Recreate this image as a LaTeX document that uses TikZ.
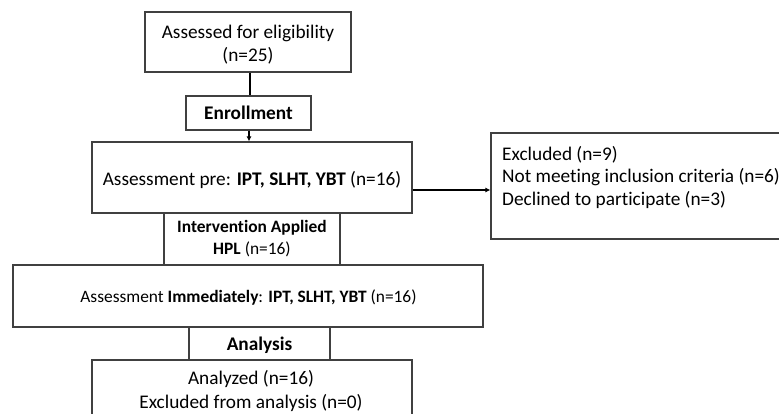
\documentclass[tikz,border=0pt]{standalone}
\usepackage{fontspec}
\setmainfont{Carlito}[Ligatures={NoCommon}]
\usetikzlibrary{arrows.meta,calc}
\begin{document}
\begin{tikzpicture}[x=1pt,y=-1pt,
  box/.style={draw=black!75,line width=1.1pt,rectangle,inner sep=0pt,fill=white},
  txt/.style={inner sep=0pt,align=center,font=\fontsize{19.3}{23}\selectfont},
  thick line/.style={line width=2.6pt,black},
  arr/.style={line width=2pt,black,-{Latex[length=5pt,width=5pt]}}]
\useasboundingbox (0,0) rectangle (779,413);
% boxes
\node[box,minimum width=206,minimum height=60] (elig) at (248,42) {};
\node[box,minimum width=125,minimum height=34] (enroll) at (248.5,113) {};
\node[box,minimum width=320,minimum height=71] (pre) at (252,177.5) {};
\node[box,minimum width=299,minimum height=106] (excl) at (640.5,186) {};
\node[box,minimum width=176,minimum height=52] (interv) at (252,239) {};
\node[box,minimum width=470,minimum height=62] (immed) at (248,296) {};
\node[box,minimum width=141,minimum height=33] (anal) at (259.5,343.5) {};
\node[box,minimum width=320,minimum height=70] (analyzed) at (252,395) {};
% texts
\node[txt] (t1) at (248,44.5) {Assessed for eligibility\\(n=25)};
\node[txt] (t2) at (248.5,113) {\bfseries Enrollment};
\node[txt] (t3) at (252,180) {Assessment pre: \textbf{IPT, SLHT, YBT} (n=16)};
\node[txt,anchor=north west,align=left,font=\fontsize{19.3}{22.5}\selectfont] (t4) at (502,146) {Excluded (n=9)\\Not meeting inclusion criteria (n=6)\\Declined to participate (n=3)};
\node[txt,font=\fontsize{17.4}{22}\selectfont] (t5) at (252,239) {\textbf{Intervention Applied}\\\textbf{HPL} (n=16)};
\node[txt,font=\fontsize{17.4}{22}\selectfont] (t6) at (248.5,297) {Assessment \textbf{Immediately}: \textbf{IPT, SLHT, YBT} (n=16)};
\node[txt] (t7) at (259.5,345) {\bfseries Analysis};
\node[txt,font=\fontsize{19.3}{23.5}\selectfont] (t8) at (251,391) {Analyzed (n=16)\\Excluded from analysis (n=0)};
% connectors
\coordinate (ay) at (0,190);
\draw[thick line] (elig.south -| 250,0) -- (enroll.north -| 250,0);
\draw[arr] (enroll.south -| 249,0) -- (pre.north -| 249,0);
\draw[arr] (pre.east |- ay) -- (excl.west |- ay);
\end{tikzpicture}
\end{document}
